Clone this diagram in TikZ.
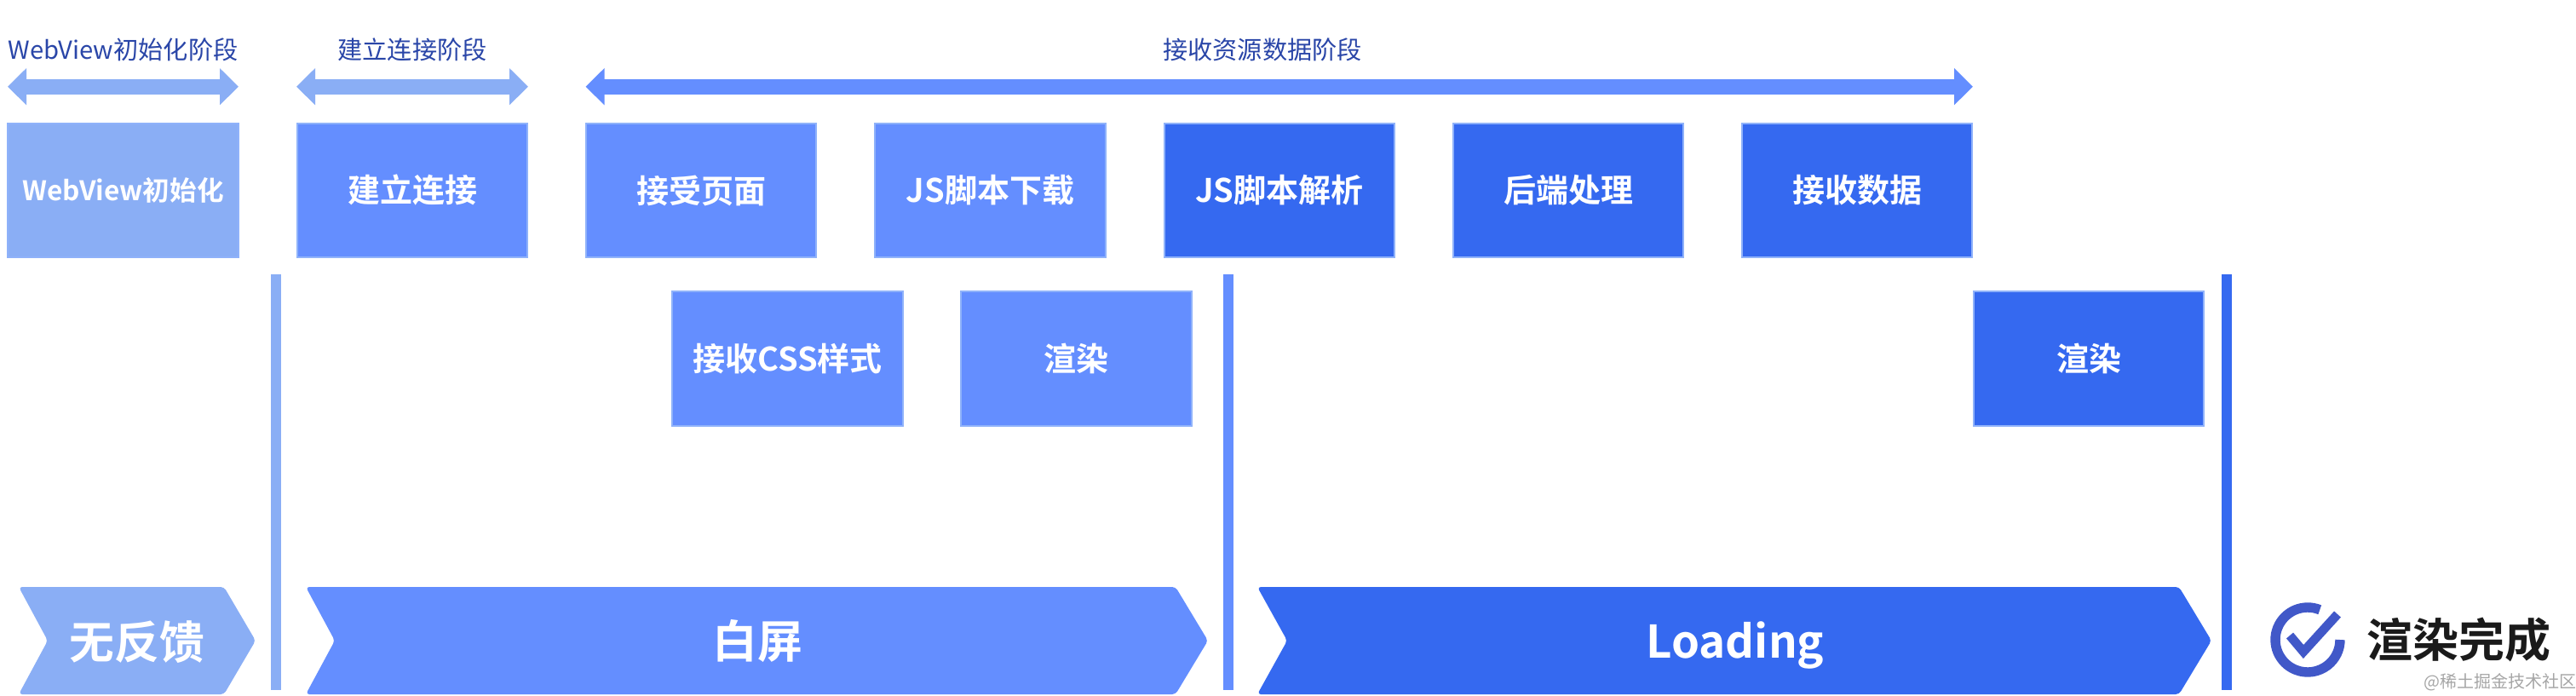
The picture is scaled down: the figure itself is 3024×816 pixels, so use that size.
\documentclass[tikz,border=0pt]{standalone}
\usepackage{fontspec}
\setmainfont{Noto Sans CJK SC}[BoldFont={Noto Sans CJK SC Bold}]
\usetikzlibrary{arrows.meta}
\definecolor{cLight}{HTML}{8AAEF5}
\definecolor{cMid}{HTML}{648EFF}
\definecolor{cDark}{HTML}{3569F0}
\definecolor{cEdge}{HTML}{8FB2FA}
\definecolor{cLabel}{HTML}{2A46A8}
\definecolor{cIcon}{HTML}{4158C8}
\definecolor{cInk}{HTML}{1A1A1A}
\definecolor{cMark}{HTML}{A6A6A6}
\tikzset{
  x=0.5pt,y=-0.5pt,
  stage/.style={rectangle,draw=cEdge,line width=0.9pt,inner sep=0,outer sep=0,
    minimum width=135.2pt,minimum height=78.8pt,text=white,font=\fontsize{19}{19}\selectfont\bfseries},
  toplabel/.style={inner sep=0,text=cLabel,font=\fontsize{14.6}{14.6}\selectfont},
  band/.style={line width=9pt,{Triangle[length=11pt,width=21pt]}-{Triangle[length=11pt,width=21pt]}},
  chevron/.style={rounded corners=2pt},
  chevlabel/.style={inner sep=0,text=white,font=\fontsize{26.4}{26.4}\selectfont\bfseries},
  divider/.style={rectangle,inner sep=0,outer sep=0,minimum width=6pt,minimum height=244pt},
}
\begin{document}
\begin{tikzpicture}
\useasboundingbox[fill=white] (0,0) rectangle (3024,816);
% phase arrows
\coordinate (a1l) at (9,101.7); \coordinate (a1r) at (280,101.7);
\coordinate (a2l) at (348,101.7); \coordinate (a2r) at (620,101.7);
\coordinate (a3l) at (687.5,101.7); \coordinate (a3r) at (2316,101.7);
\draw[band,draw=cLight,color=cLight] (a1l) -- (a1r);
\draw[band,draw=cLight,color=cLight] (a2l) -- (a2r);
\draw[band,draw=cMid,color=cMid] (a3l) -- (a3r);
\node[toplabel] (t1) at (144.5,58) {WebView初始化阶段};
\node[toplabel] (t2) at (484,58) {建立连接阶段};
\node[toplabel] (t3) at (1482,58) {接收资源数据阶段};
% first row
\node[stage,fill=cLight,font=\fontsize{15.8}{15.8}\selectfont\bfseries] (s1) at (144.5,223.5) {WebView初始化};
\node[stage,fill=cMid] (s2) at (484,223.5) {建立连接};
\node[stage,fill=cMid] (s3) at (823,223.5) {接受页面};
\node[stage,fill=cMid] (s4) at (1162.5,223.5) {JS脚本下载};
\node[stage,fill=cDark] (s5) at (1502,223.5) {JS脚本解析};
\node[stage,fill=cDark] (s6) at (1841,223.5) {后端处理};
\node[stage,fill=cDark] (s7) at (2180,223.5) {接收数据};
% second row
\node[stage,fill=cMid] (r1) at (924.5,421) {接收CSS样式};
\node[stage,fill=cMid] (r2) at (1263.5,421) {渲染};
\node[stage,fill=cDark] (r3) at (2452,421) {渲染};
% dividers
\node[divider,fill=cLight] (d1) at (323.5,566) {};
\node[divider,fill=cMid] (d2) at (1442,566) {};
\node[divider,fill=cDark] (d3) at (2614,566) {};
% chevrons
\fill[chevron,cLight] (22,689) -- (263,689) -- (300,752) -- (263,815) -- (22,815) -- (56,752) -- cycle;
\fill[chevron,cMid] (359,689) -- (1380,689) -- (1418,752) -- (1380,815) -- (359,815) -- (393,752) -- cycle;
\fill[chevron,cDark] (1476,689) -- (2558,689) -- (2596,752) -- (2558,815) -- (1476,815) -- (1511,752) -- cycle;
\node[chevlabel] (c1) at (161,754) {无反馈};
\node[chevlabel] (c2) at (889,752) {白屏};
\node[chevlabel] (c3) at (2037,757) {Loading};
% check icon
\draw[cIcon,line width=5.7pt] (2709,751) ++(-68:38) arc[start angle=-68,end angle=-360,radius=38];
\draw[cIcon,line width=5.3pt,miter limit=10] (2688,746) -- (2704,765) -- (2744,721);
\node[inner sep=0,text=cInk,font=\fontsize{27}{27}\selectfont\bfseries] (done) at (2886,751) {渲染完成};
\node[inner sep=0,text=cMark,font=\fontsize{10}{10}\selectfont] (mark) at (2935,801) {@稀土掘金技术社区};
\end{tikzpicture}
\end{document}
